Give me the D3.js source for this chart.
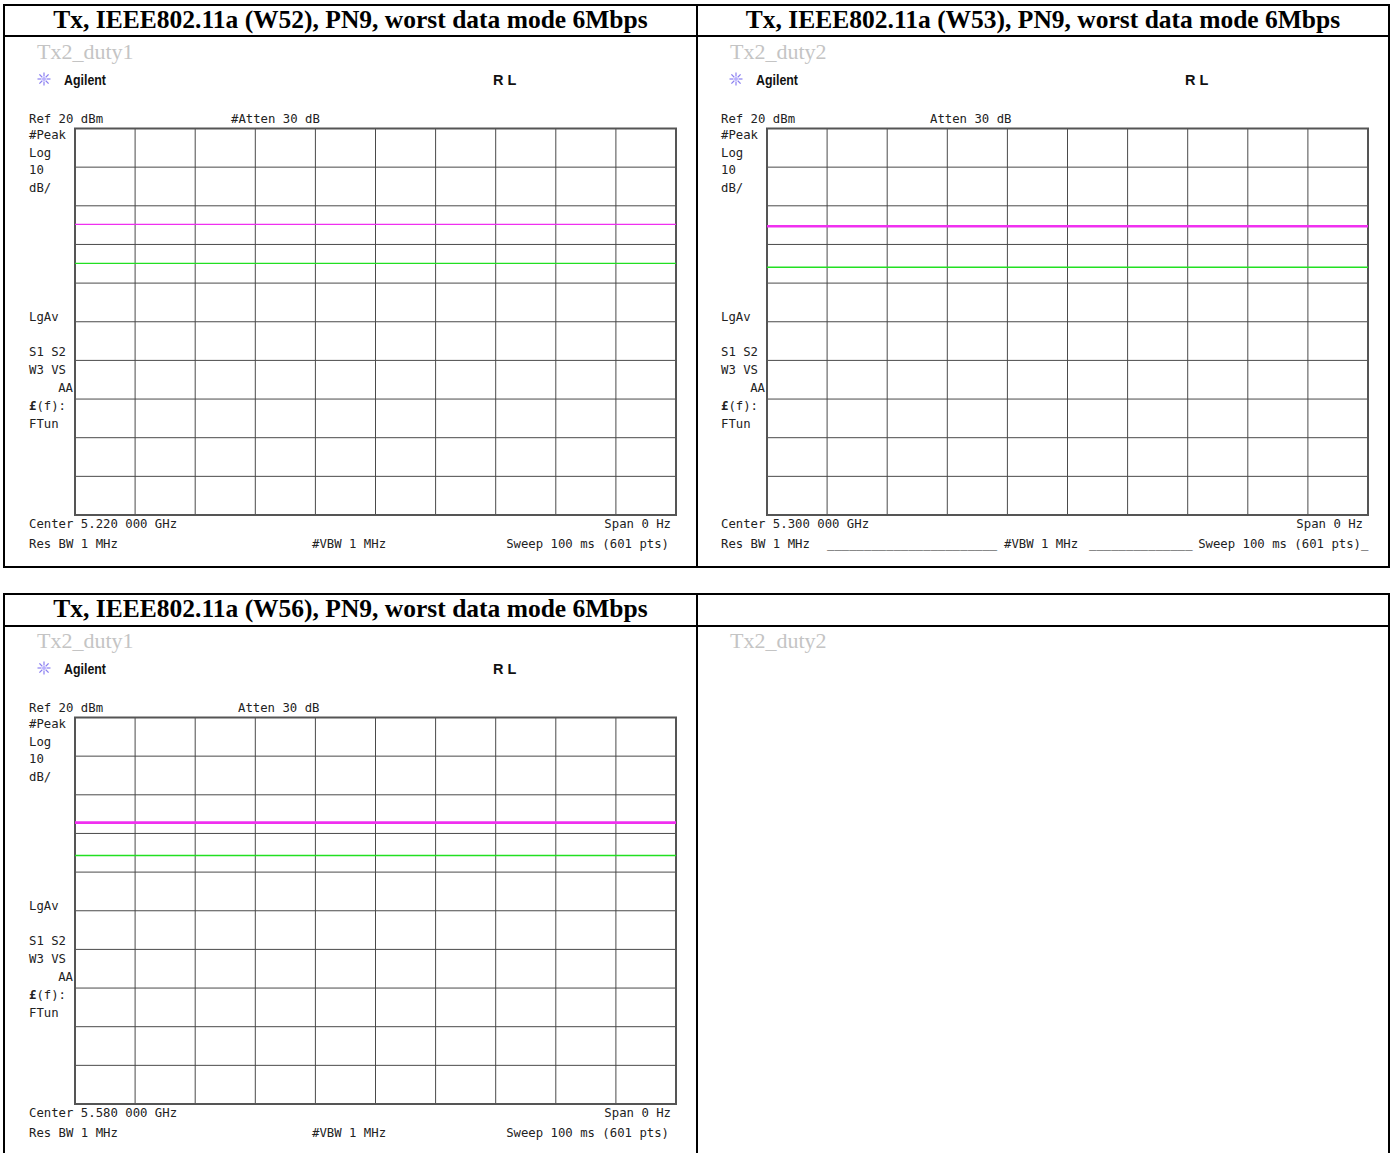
<!DOCTYPE html>
<html>
<head>
<meta charset="utf-8">
<script src="https://cdn.jsdelivr.net/npm/d3@7"></script>
<style>
  html, body { margin: 0; padding: 0; background: #fff; }
  svg { display: block; }
  .hdr { font-family: "Liberation Serif", "Times New Roman", serif; font-weight: bold; font-size: 25.5px; fill: #000; }
  .cap { font-family: "Liberation Serif", "Times New Roman", serif; font-size: 22px; fill: #c4c4c4; }
  .scr { font-family: "DejaVu Sans Mono", "Liberation Mono", monospace; font-size: 12.3px; fill: #222; }
  .brand { font-family: "Liberation Sans", Arial, sans-serif; font-weight: bold; font-size: 14.5px; fill: #111; }
</style>
</head>
<body>
<script>
// ---------------- data ----------------
const headers = [
  "Tx, IEEE802.11a (W52), PN9, worst data mode 6Mbps",
  "Tx, IEEE802.11a (W53), PN9, worst data mode 6Mbps",
  "Tx, IEEE802.11a (W56), PN9, worst data mode 6Mbps",
  ""
];
const captions = ["Tx2_duty1", "Tx2_duty2", "Tx2_duty1", "Tx2_duty2"];
const centerLabels = ["Center 5.220 000 GHz", "Center 5.300 000 GHz", "Center 5.580 000 GHz"];
const attenLabels = ["#Atten 30 dB", "Atten 30 dB", "Atten 30 dB"];
const sideLabels = ["#Peak", "Log", "10", "dB/", "LgAv", "S1  S2", "W3  VS", "AA", "\u00A3(f):", "FTun"];
const sweepTicks = [0, 10, 20, 30, 40, 50, 60, 70, 80, 90, 100];       // ms, zero span sweep 100 ms
const levelTicks = [20, 10, 0, -10, -20, -30, -40, -50, -60, -70, -80]; // dBm, Ref 20 dBm, 10 dB/div
// trace levels (dBm) read at each sweep division
const peakTraces = [
  [-4.8, -4.8, -4.8, -4.8, -4.8, -4.8, -4.8, -4.8, -4.8, -4.8, -4.8],
  [-5.3, -5.3, -5.3, -5.3, -5.3, -5.3, -5.3, -5.3, -5.3, -5.3, -5.3],
  [-7.2, -7.2, -7.2, -7.2, -7.2, -7.2, -7.2, -7.2, -7.2, -7.2, -7.2]
];
const avgTraces = [
  [-14.9, -14.9, -14.9, -14.9, -14.9, -14.9, -14.9, -14.9, -14.9, -14.9, -14.9],
  [-15.9, -15.9, -15.9, -15.9, -15.9, -15.9, -15.9, -15.9, -15.9, -15.9, -15.9],
  [-15.7, -15.7, -15.7, -15.7, -15.7, -15.7, -15.7, -15.7, -15.7, -15.7, -15.7]
];
const peakWidths = [1.4, 2.6, 2.6];

// ---------------- layout ----------------
const W = 1394, H = 1153;
const svg = d3.select("body").append("svg").attr("width", W).attr("height", H);

// table frames
const tL = 4, tR = 1389, tMid = 697;
const tables = [
  { top: 5, hdr: 36, bottom: 567 },
  { top: 594, hdr: 626, bottom: 1160 }
];
const frame = svg.append("g").attr("stroke", "#000").attr("stroke-width", 2).attr("fill", "none");
tables.forEach(t => {
  frame.append("rect").attr("x", tL).attr("y", t.top).attr("width", tR - tL).attr("height", t.bottom - t.top);
  frame.append("line").attr("x1", tL).attr("x2", tR).attr("y1", t.hdr).attr("y2", t.hdr);
  frame.append("line").attr("x1", tMid).attr("x2", tMid).attr("y1", t.top).attr("y2", t.bottom);
});

// cells: header text + caption
const cells = [
  { x0: tL, x1: tMid, t: tables[0] },
  { x0: tMid, x1: tR, t: tables[0] },
  { x0: tL, x1: tMid, t: tables[1] },
  { x0: tMid, x1: tR, t: tables[1] }
];
cells.forEach((c, i) => {
  svg.append("text").attr("class", "hdr")
    .attr("x", (c.x0 + c.x1) / 2).attr("y", c.t.top + 23)
    .attr("text-anchor", "middle").text(headers[i]);
  svg.append("text").attr("class", "cap")
    .attr("x", c.x0 + 33).attr("y", c.t.top + 54).text(captions[i]);
});

// analyzer screens
const offsets = [[0, 0], [692, 0], [0, 589]];
const x = d3.scaleLinear().domain([0, 100]).range([75, 676]);
const y = d3.scaleLinear().domain([20, -80]).range([128.5, 515]);

offsets.forEach((off, p) => {
  const g = svg.append("g").attr("transform", `translate(${off[0]},${off[1]})`);

  // Agilent logo (starburst)
  const logo = g.append("g").attr("transform", "translate(44,79)").attr("stroke", "#8a7ff0").attr("stroke-width", 1.2);
  d3.range(8).forEach(k => {
    const a = k * Math.PI / 4;
    logo.append("line").attr("x1", 2.5 * Math.cos(a)).attr("y1", 2.5 * Math.sin(a))
      .attr("x2", 6.5 * Math.cos(a)).attr("y2", 6.5 * Math.sin(a));
  });
  logo.append("circle").attr("r", 2).attr("fill", "#b9b0ff").attr("stroke", "none");
  g.append("text").attr("class", "brand").attr("x", 64).attr("y", 85)
    .attr("textLength", 42).attr("lengthAdjust", "spacingAndGlyphs").text("Agilent");
  g.append("text").attr("class", "brand").attr("x", 493).attr("y", 85).text("R L");

  // top labels
  g.append("text").attr("class", "scr").attr("x", 29).attr("y", 123).text("Ref 20 dBm");
  g.append("text").attr("class", "scr").attr("x", p === 0 ? 231 : 238).attr("y", 123).text(attenLabels[p]);

  // side labels
  const sideY = [139, 157, 174, 192, 321, 356, 374, 392, 410, 428];
  sideLabels.forEach((s, k) => {
    const t = g.append("text").attr("class", "scr").attr("y", sideY[k]).text(s);
    if (s === "AA") t.attr("x", 73).attr("text-anchor", "end");
    else t.attr("x", 29);
    if (k === 8) t.html('<tspan font-weight="bold">\u00A3</tspan>(f):');
  });

  // graticule
  const grid = g.append("g").attr("stroke", "#4a4a4a").attr("stroke-width", 1);
  sweepTicks.forEach(v => grid.append("line").attr("x1", x(v)).attr("x2", x(v)).attr("y1", y(20)).attr("y2", y(-80)));
  levelTicks.forEach(v => grid.append("line").attr("x1", x(0)).attr("x2", x(100)).attr("y1", y(v)).attr("y2", y(v)));
  g.append("rect").attr("x", x(0)).attr("y", y(20)).attr("width", x(100) - x(0)).attr("height", y(-80) - y(20))
    .attr("fill", "none").attr("stroke", "#555").attr("stroke-width", 2);

  // traces
  const line = d3.line().x((d, k) => x(sweepTicks[k])).y(d => y(d));
  g.append("path").datum(avgTraces[p]).attr("d", line).attr("fill", "none")
    .attr("stroke", "#22e022").attr("stroke-width", 1.3);
  g.append("path").datum(peakTraces[p]).attr("d", line).attr("fill", "none")
    .attr("stroke", "#f030f0").attr("stroke-width", peakWidths[p]);

  // bottom labels
  g.append("text").attr("class", "scr").attr("x", 29).attr("y", 528).text(centerLabels[p]);
  g.append("text").attr("class", "scr").attr("x", 671).attr("y", 528).attr("text-anchor", "end").text("Span 0 Hz");
  g.append("text").attr("class", "scr").attr("x", 29).attr("y", 548).text("Res BW 1 MHz");
  g.append("text").attr("class", "scr").attr("x", 312).attr("y", 548).text("#VBW 1 MHz");
  g.append("text").attr("class", "scr").attr("x", 669).attr("y", 548).attr("text-anchor", "end").text("Sweep 100 ms (601 pts)");
  if (p === 1) {
    g.append("text").attr("class", "scr").attr("x", 135).attr("y", 548).text("_______________________");
    g.append("text").attr("class", "scr").attr("x", 397).attr("y", 548).text("______________");
    g.append("text").attr("class", "scr").attr("x", 669).attr("y", 548).text("_");
  }
});
</script>
</body>
</html>
